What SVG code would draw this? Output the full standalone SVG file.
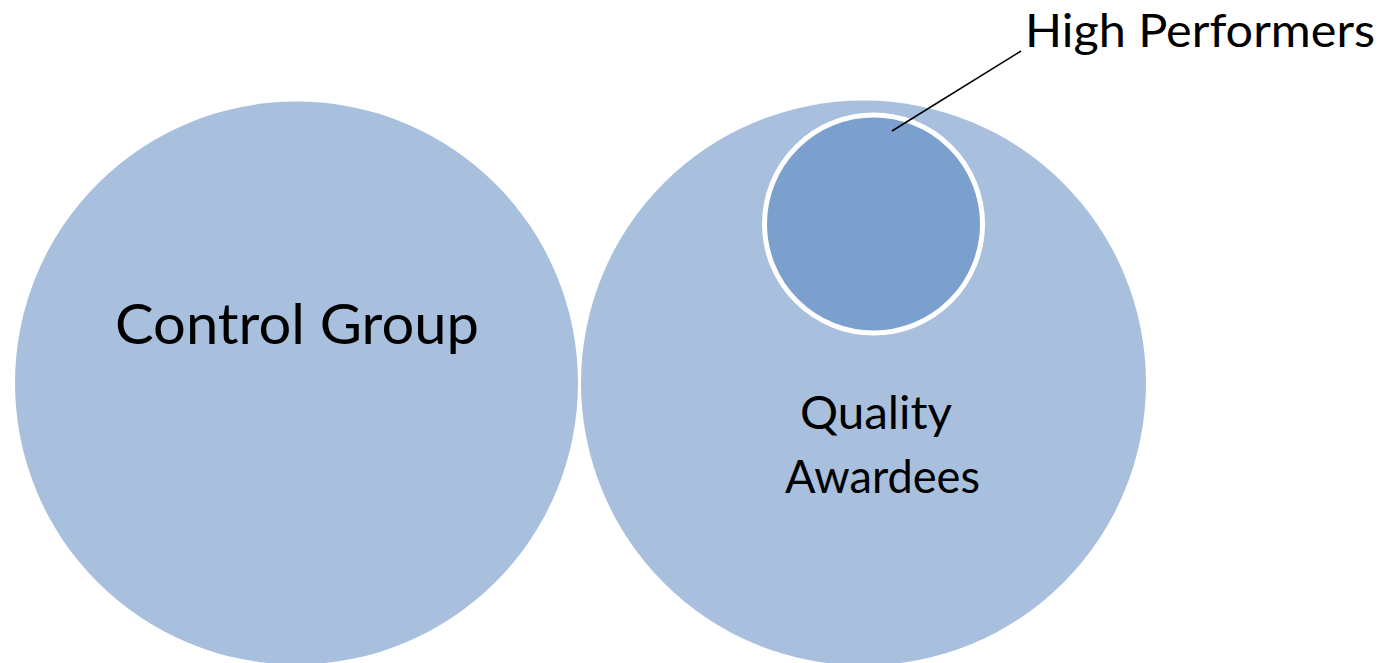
<svg xmlns="http://www.w3.org/2000/svg" width="1390" height="663" viewBox="0 0 1390 663">
  <style>
    .set { fill: #A8C0DE; }
    .subset { fill: #7BA0CD; stroke: #FFFFFF; stroke-width: 5; }
    .label { font-family: "Lato", "Liberation Sans", sans-serif; fill: #000000; }
    .leader { stroke: #000000; stroke-width: 1.6; fill: none; }
  </style>
  <rect width="1390" height="663" fill="#FFFFFF"/>

  <g id="control-group">
    <circle class="set" cx="296.5" cy="383" r="281.5"/>
    <text class="label" x="115" y="344" font-size="57" textLength="364" lengthAdjust="spacingAndGlyphs">Control Group</text>
  </g>

  <g id="quality-awardees">
    <circle class="set" cx="863.5" cy="383" r="282.5"/>
    <text class="label" x="800" y="429" font-size="47" textLength="152" lengthAdjust="spacingAndGlyphs">Quality</text>
    <text class="label" x="785" y="493" font-size="47" textLength="195" lengthAdjust="spacingAndGlyphs">Awardees</text>
  </g>

  <g id="high-performers">
    <circle class="subset" cx="873.5" cy="224" r="109"/>
    <text class="label" x="1025" y="47" font-size="47" textLength="350" lengthAdjust="spacingAndGlyphs">High Performers</text>
  </g>

  <g id="connectors">
    <line class="leader" x1="892" y1="131" x2="1021" y2="51"/>
  </g>
</svg>
